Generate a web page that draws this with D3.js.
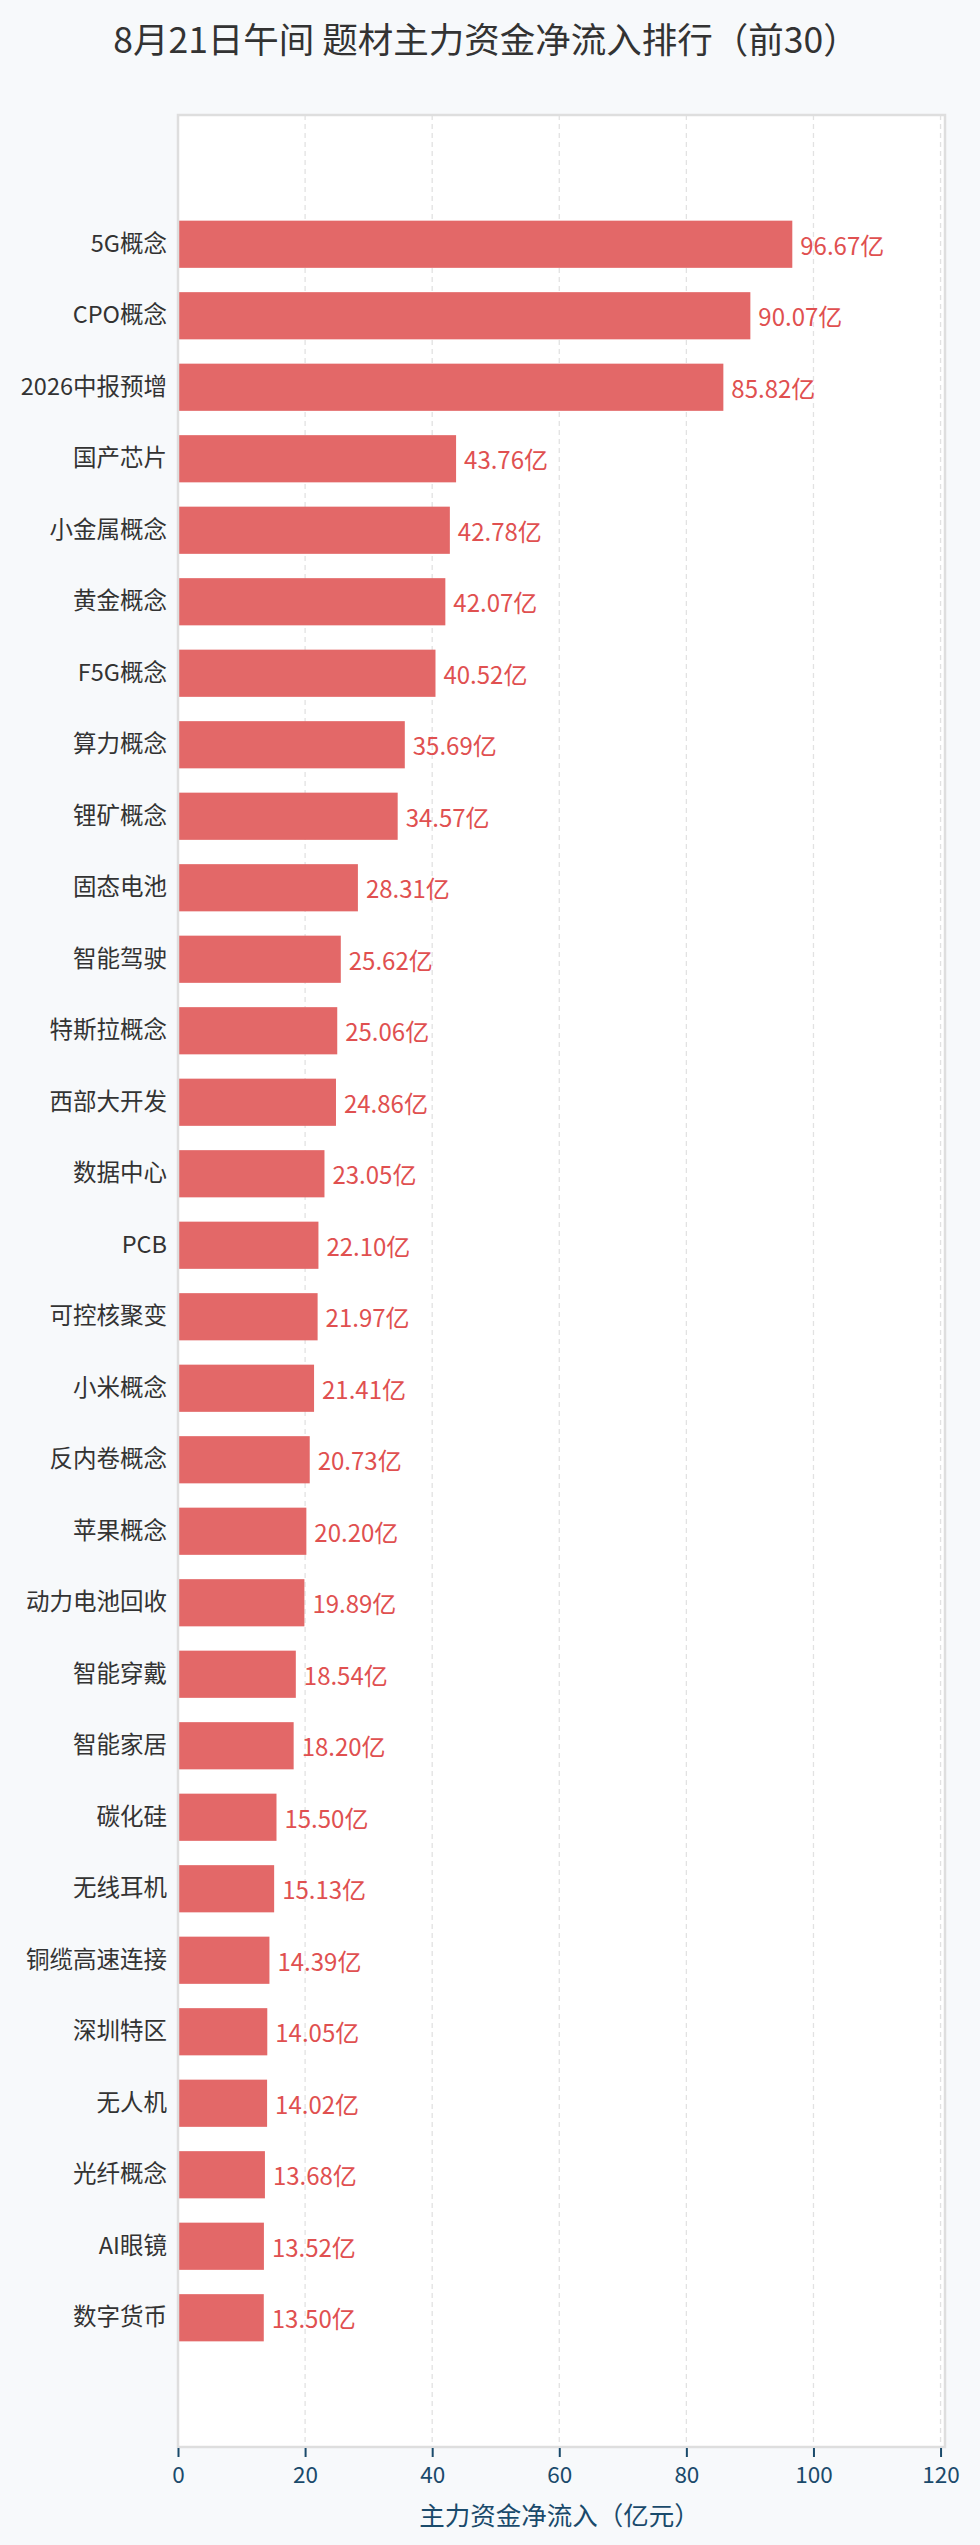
<!DOCTYPE html>
<html>
<head>
<meta charset="utf-8">
<script src="https://cdn.jsdelivr.net/npm/d3@7"></script>
<style>
  body { margin: 0; background: #f7f9fb; }
  svg { display: block; font-family: "Noto Sans CJK SC", "Noto Sans", sans-serif; }
</style>
</head>
<body>
<div class="chart"></div>
<script>
// categories and values
const categories = ["5G概念", "CPO概念", "2026中报预增", "国产芯片", "小金属概念", "黄金概念",
  "F5G概念", "算力概念", "锂矿概念", "固态电池", "智能驾驶", "特斯拉概念", "西部大开发",
  "数据中心", "PCB", "可控核聚变", "小米概念", "反内卷概念", "苹果概念", "动力电池回收",
  "智能穿戴", "智能家居", "碳化硅", "无线耳机", "铜缆高速连接", "深圳特区", "无人机",
  "光纤概念", "AI眼镜", "数字货币"];
const values = [96.67, 90.07, 85.82, 43.76, 42.78, 42.07, 40.52, 35.69, 34.57, 28.31,
  25.62, 25.06, 24.86, 23.05, 22.10, 21.97, 21.41, 20.73, 20.20, 19.89,
  18.54, 18.20, 15.50, 15.13, 14.39, 14.05, 14.02, 13.68, 13.52, 13.50];
const xTicks = [0, 20, 40, 60, 80, 100, 120];

const title = "8月21日午间 题材主力资金净流入排行（前30）";
const xTitle = "主力资金净流入（亿元）";

const width = 980;
const height = 2545;
const plot = { left: 178, right: 945, top: 115, bottom: 2447 };

const svg = d3.select(".chart")
  .append("svg")
  .attr("width", width)
  .attr("height", height);

svg.append("rect")
  .attr("width", width)
  .attr("height", height)
  .attr("fill", "#f7f9fb");

const xScale = d3.scaleLinear()
  .domain([0, 120.7])
  .range([plot.left, plot.right]);

const yScale = d3.scaleBand()
  .domain(categories)
  .range([plot.top + 93.5, plot.bottom - 93.5])
  .paddingInner(0.34)
  .paddingOuter(0.17);

// plot background
svg.append("rect")
  .attr("x", plot.left)
  .attr("y", plot.top)
  .attr("width", plot.right - plot.left)
  .attr("height", plot.bottom - plot.top)
  .attr("fill", "#ffffff");

// dashed grid
svg.append("g")
  .selectAll("line")
  .data(xTicks.slice(1))
  .enter()
  .append("line")
  .attr("x1", d => xScale(d))
  .attr("x2", d => xScale(d))
  .attr("y1", plot.top)
  .attr("y2", plot.bottom)
  .attr("stroke", "#e2e2e2")
  .attr("stroke-width", 1.3)
  .attr("stroke-dasharray", "5,4");

// bars
svg.append("g")
  .selectAll("rect")
  .data(values)
  .enter()
  .append("rect")
  .attr("x", xScale(0))
  .attr("y", (d, i) => yScale(categories[i]))
  .attr("width", d => xScale(d) - xScale(0))
  .attr("height", yScale.bandwidth())
  .attr("fill", "#e36868");

// value labels
svg.append("g")
  .selectAll("text")
  .data(values)
  .enter()
  .append("text")
  .attr("x", d => xScale(d) + 8)
  .attr("y", (d, i) => yScale(categories[i]) + yScale.bandwidth() / 2)
  .attr("dominant-baseline", "central")
  .attr("font-size", 24)
  .attr("fill", "#e05050")
  .text(d => d.toFixed(2) + "亿");

// frame
svg.append("rect")
  .attr("x", plot.left)
  .attr("y", plot.top)
  .attr("width", plot.right - plot.left)
  .attr("height", plot.bottom - plot.top)
  .attr("fill", "none")
  .attr("stroke", "#dedede")
  .attr("stroke-width", 2.5);

// category axis
const yAxis = d3.axisLeft(yScale).tickSize(0).tickPadding(11);
const gy = svg.append("g")
  .attr("transform", "translate(" + plot.left + ",0)")
  .call(yAxis);
gy.select(".domain").remove();
gy.selectAll("text")
  .attr("font-size", 23.5)
  .attr("font-family", "Noto Sans CJK SC")
  .attr("fill", "#333333");

// value axis
const xAxis = d3.axisBottom(xScale).tickValues(xTicks).tickSize(9).tickPadding(10);
const gx = svg.append("g")
  .attr("transform", "translate(0," + (plot.bottom + 1) + ")")
  .call(xAxis);
gx.select(".domain").remove();
gx.selectAll("line")
  .attr("stroke", "#1a4a6b")
  .attr("stroke-width", 2);
gx.selectAll("text")
  .attr("font-size", 22.5)
  .attr("font-family", "Noto Sans CJK SC")
  .attr("fill", "#1a4a6b");

svg.append("text")
  .attr("x", (plot.left + 941) / 2)
  .attr("y", 2513)
  .attr("text-anchor", "middle")
  .attr("dominant-baseline", "central")
  .attr("font-size", 25.5)
  .attr("fill", "#1a4a6b")
  .text(xTitle);

svg.append("text")
  .attr("x", 486)
  .attr("y", 37)
  .attr("text-anchor", "middle")
  .attr("dominant-baseline", "central")
  .attr("font-size", 35.5)
  .attr("fill", "#333333")
  .text(title);
</script>
</body>
</html>
